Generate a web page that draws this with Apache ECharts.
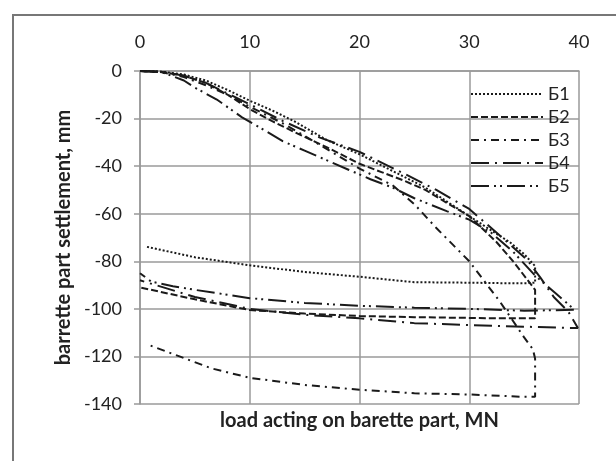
<!DOCTYPE html>
<html><head><meta charset="utf-8">
<script src="https://cdn.jsdelivr.net/npm/echarts@6/dist/echarts.min.js"></script>
<style>html,body{margin:0;padding:0;background:#fff}#c{width:616px;height:461px}</style>
</head><body><div id="c"></div>
<script>
const xTicks = [0, 10, 20, 30, 40];
const yTicks = [0, -20, -40, -60, -80, -100, -120, -140];
const seriesNames = ['Б1', 'Б2', 'Б3', 'Б4', 'Б5'];

const b1Load   = [0,2,4,6,8,10,12,14,17,20,23,26,28,30,32,33.7,35,36,36,35.3,33,30,25,20,15,10,5,0.5];
const b1Settle = [0,-0.3,-1.5,-4,-8,-12.5,-16.5,-21,-29,-35,-42,-49,-55,-61,-67,-72,-77,-82,-89,-89.2,-89.2,-89,-88.8,-86.5,-84.5,-81.7,-78.3,-73.8];

const b2Load   = [0,2,4,6,8,10,12,14,17,20,22,24,26,28,30,32.5,34,36,36,33,30,25,20,15,10,5,0];
const b2Settle = [0,-0.4,-2,-5,-10,-16,-21,-25.5,-32,-39,-42.5,-46,-50,-55.6,-61,-72,-80,-92,-104,-104,-103.8,-103.5,-103,-102,-100.5,-96,-91];

const b3Load   = [0,2,4,6,8,10,13,16,20,23,25,27,28.5,30,32.8,35,35.8,36,36,35,30,25,20,15,10,6.5,3.6,0.7];
const b3Settle = [0,-0.5,-2.5,-6,-10,-15,-22,-30,-41,-48,-56,-66,-73,-80,-97,-112,-117,-121,-137,-137,-136,-135.5,-134,-132,-129,-125,-120,-115];

const b4Load   = [0,2,4,6,8,10,13,16.4,20,24,27,30,33,35.3,36.5,37.7,39,39.9,39,35,30,25,20,15,10,5,0];
const b4Settle = [0,-0.3,-2,-5,-9.5,-14,-21,-28,-34,-43,-50,-58,-70,-79.5,-87,-95,-101,-108,-108,-107.5,-106.8,-106,-104,-102.5,-100,-95,-88];

const b5Load   = [0,2,4,5,6.2,7,9.3,11,13,15,17,19,21,23,25,28,30,32,34,36,38,39.6,39.6,35,30,25,20,15,10,5,3,1,0];
const b5Settle = [0,-0.5,-4,-7,-10,-12,-19.5,-24,-29.5,-33.5,-37.5,-41.5,-45.5,-49,-53.5,-59,-62.5,-68,-76,-86,-94,-100.4,-100.4,-100.8,-100,-99.5,-98.7,-97.5,-95.5,-92,-90.5,-88.5,-85];

const loads = [b1Load, b2Load, b3Load, b4Load, b5Load];
const settles = [b1Settle, b2Settle, b3Settle, b4Settle, b5Settle];
const dashes = [[2,2], [7,3], [8,5,2,5], [18,6,2,6], [18,5,2,4,2,5]];

const FONT = 'Lato, "Open Sans", sans-serif';
const chart = echarts.init(document.getElementById('c'));
chart.setOption({
  backgroundColor: '#ffffff',
  animation: false,
  grid: { left: 140, top: 71, width: 439, height: 333 },
  xAxis: {
    type: 'value', position: 'top', min: xTicks[0], max: xTicks[xTicks.length-1], interval: 10,
    axisLine: { show: true, onZero: false, lineStyle: { color: '#999', width: 1.5 } },
    axisTick: { show: false },
    axisLabel: { color: '#222', fontSize: 18, fontFamily: FONT, margin: 20 },
    splitLine: { show: true, lineStyle: { color: '#9a9a9a', width: 1.5 } }
  },
  yAxis: {
    type: 'value', min: yTicks[yTicks.length-1], max: yTicks[0], interval: 20,
    name: 'barrette part settlement, mm', nameLocation: 'middle', nameGap: 62, nameRotate: 90,
    nameTextStyle: { color: '#222', fontSize: 20, fontWeight: 'bold', fontFamily: FONT },
    axisLine: { show: true, lineStyle: { color: '#999', width: 1.5 } },
    axisTick: { show: true, inside: false, length: 6, lineStyle: { color: '#999', width: 1.5 } },
    axisLabel: { color: '#222', fontSize: 18, fontFamily: FONT, margin: 18 },
    splitLine: { show: true, lineStyle: { color: '#9a9a9a', width: 1.5 } }
  },
  legend: {
    orient: 'vertical', left: 465, top: 80, itemWidth: 72, itemHeight: 14, itemGap: 5,
    itemStyle: { opacity: 0 },
    textStyle: { color: '#222', fontSize: 18, fontFamily: FONT },
    data: seriesNames
  },
  graphic: [
    { type: 'rect', shape: { x: 13, y: 15, width: 800, height: 600 }, style: { fill: 'none', stroke: '#777', lineWidth: 2 }, silent: true },
    { type: 'text', x: 359.5, y: 411, style: { text: 'load acting on barette part, MN', textAlign: 'center', fill: '#222', font: 'bold 20px ' + FONT }, silent: true }
  ],
  series: seriesNames.map((n, i) => ({
    name: n, type: 'line', symbol: 'none',
    data: loads[i].map((x, j) => [x, settles[i][j]]),
    lineStyle: { color: '#1a1a1a', width: 2, type: dashes[i] },
    itemStyle: { color: '#1a1a1a' }
  }))
});
</script></body></html>
